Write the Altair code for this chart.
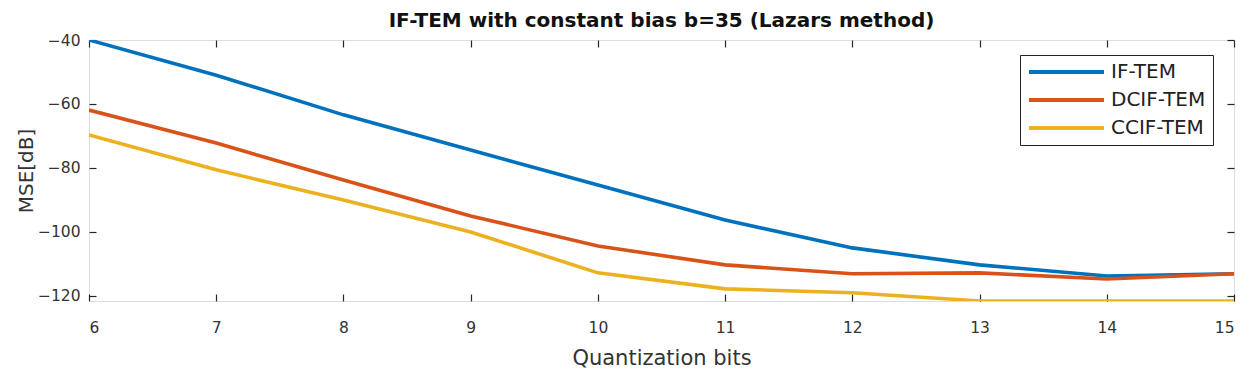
import altair as alt
import pandas as pd

bits = [6, 7, 8, 9, 10, 11, 12, 13, 14, 15]
if_tem = [-40.0, -51.0, -63.4, -74.4, -85.3, -96.3, -105.0, -110.3, -113.8, -113.1]
dcif_tem = [-61.9, -72.2, -83.8, -95.0, -104.4, -110.3, -113.1, -112.8, -114.7, -113.1]
ccif_tem = [-69.7, -80.6, -90.0, -100.0, -112.8, -117.8, -119.0, -121.6, -121.6, -121.6]
series_names = ["IF-TEM", "DCIF-TEM", "CCIF-TEM"]
series_colors = ["#0072BD", "#D95319", "#EDB120"]
x_ticks = [6, 7, 8, 9, 10, 11, 12, 13, 14, 15]
y_ticks = [-120, -100, -80, -60, -40]

rows = []
for name, vals in zip(series_names, [if_tem, dcif_tem, ccif_tem]):
    for b, v in zip(bits, vals):
        rows.append({"bits": b, "mse": v, "series": name})
df = pd.DataFrame(rows)

xs = alt.Scale(domain=[6, 15], nice=False, zero=False)
ys = alt.Scale(domain=[-121.6, -40], nice=False, zero=False)

tick_common = dict(domain=False, grid=False, tickSize=7, tickColor="#262626",
                   tickWidth=1.2, offset=-7)
label_font = "DejaVu Sans"

lines = alt.Chart(df).mark_line(strokeWidth=3.6, clip=True).encode(
    x=alt.X("bits:Q", scale=xs,
            axis=alt.Axis(orient="bottom", values=x_ticks, title="Quantization bits",
                          labelFont=label_font, labelFontSize=15.5, labelColor="#333333",
                          labelPadding=19, titleFont=label_font, titleFontSize=21,
                          titleFontWeight="normal", titleColor="#333333", titlePadding=12,
                          **tick_common)),
    y=alt.Y("mse:Q", scale=ys,
            axis=alt.Axis(orient="left", values=y_ticks, title="MSE[dB]",
                          labelFont=label_font, labelFontSize=15.5, labelColor="#333333",
                          labelPadding=9, titleFont=label_font, titleFontSize=20,
                          titleFontWeight="normal", titleColor="#333333", titlePadding=1,
                          **tick_common)),
    color=alt.Color("series:N",
                    scale=alt.Scale(domain=series_names, range=series_colors),
                    sort=series_names,
                    legend=alt.Legend(title=None, orient="none", legendX=931, legendY=15,
                                      symbolType="stroke", symbolSize=5625,
                                      symbolStrokeWidth=4, clipHeight=20, rowPadding=8,
                                      labelFont=label_font, labelFontSize=20,
                                      labelColor="#222222", labelOffset=5,
                                      padding=7, strokeColor="#222222", fillColor="white",
                                      cornerRadius=0)),
)

frame = alt.Chart(df).mark_line(opacity=0).encode(
    x=alt.X("bits:Q", scale=xs,
            axis=alt.Axis(orient="top", values=x_ticks, labels=False, title=None,
                          **tick_common)),
    y=alt.Y("mse:Q", scale=ys,
            axis=alt.Axis(orient="right", values=y_ticks, labels=False, title=None,
                          **tick_common)),
    detail="series:N",
)

chart = alt.layer(lines, frame).resolve_axis(
    x="independent", y="independent"
).properties(
    width=1145,
    height=261,
    title=alt.TitleParams("IF-TEM with constant bias b=35 (Lazars method)",
                          font="DejaVu Sans", fontSize=20, fontWeight="bold",
                          color="#111111", anchor="middle", offset=2),
    autosize=alt.AutoSizeParams(type="none"),
    padding={"left": 81, "top": 32, "right": 6, "bottom": 71},
).configure_view(
    stroke="#262626", strokeWidth=1.2
).configure(background="white")

chart.save("out.html", embed_options={"renderer": "svg", "actions": False})
